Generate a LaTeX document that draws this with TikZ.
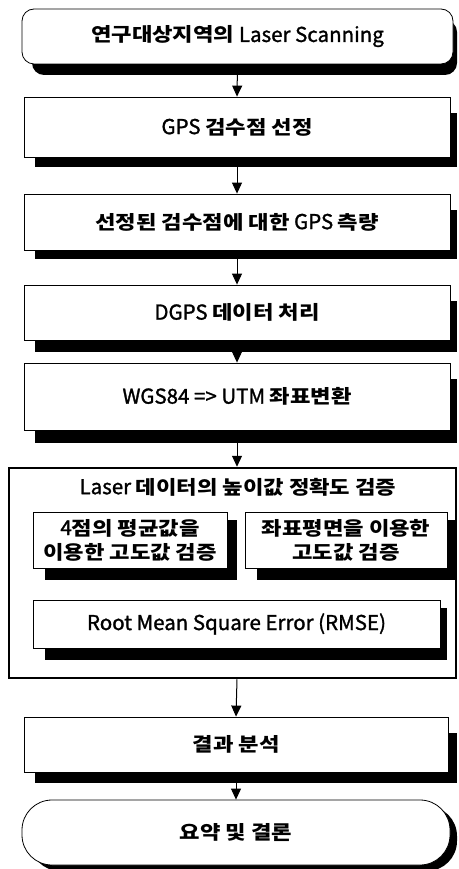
\documentclass[tikz,border=0pt]{standalone}
\usepackage{fontspec}
\setmainfont{Noto Sans CJK KR}[AutoFakeBold=1.3]
\newfontfamily\kofont{Noto Sans CJK KR}[FakeStretch=1.17]
\newcommand{\K}[1]{{\kofont\bfseries\fontsize{19}{24}\selectfont #1}}
\usetikzlibrary{calc,arrows.meta}
\begin{document}
\begin{tikzpicture}[x=1pt,y=-1pt,
  box/.style={draw, fill=white, line width=0.8pt, inner sep=0pt, align=center,
    font=\fontsize{20.5}{24}\selectfont\bfseries},
  shadowfill/.style={fill=black},
  arr/.style={-{Triangle[length=11pt,width=10pt]}, line width=1pt}]
\useasboundingbox (0,0) rectangle (458,869);
% drop shadows
\fill[shadowfill, rounded corners=12pt] (32,20) rectangle (457,75);
\fill[shadowfill] (35,113) rectangle (457,167);
\fill[shadowfill] (35,210) rectangle (457,259);
\fill[shadowfill] (35,301) rectangle (457,352);
\fill[shadowfill] (35,379) rectangle (457,443);
\fill[shadowfill] (45,520) rectangle (237,580);
\fill[shadowfill] (257,520) rectangle (455,580);
\fill[shadowfill] (45,608) rectangle (447,660);
\fill[shadowfill] (35,733) rectangle (457,783);
\fill[shadowfill, rounded corners=30pt] (30,806) rectangle (457,871);
% main boxes
\node[box, rounded corners=12pt, minimum width=431pt, minimum height=55pt] (b1) at (237.5,36.5) {\K{연구대상지역의} Laser Scanning};
\node[box, minimum width=426pt, minimum height=60pt] (b2) at (237,127) {GPS \K{검수점 선정}};
\node[box, minimum width=426pt, minimum height=56pt] (b3) at (237,222) {\K{선정된 검수점에 대한} GPS \K{측량}};
\node[box, minimum width=426pt, minimum height=55pt] (b4) at (237,312.5) {DGPS \K{데이터 처리}};
\node[box, minimum width=426pt, minimum height=67pt] (b5) at (237,396.5) {WGS84 => UTM \K{좌표변환}};
\node[box, fill=none, line width=2.5pt, minimum width=447pt, minimum height=210pt] (big) at (232.5,573) {};
\node[font=\fontsize{20.5}{24}\selectfont\bfseries, inner sep=0pt] (title) at (238,487) {Laser \K{데이터의 높이값 정확도 검증}};
\node[box, minimum width=194pt, minimum height=56pt] (bA) at (130,540) {4\K{점의 평균값을}\\\K{이용한 고도값 검증}};
\node[box, minimum width=202pt, minimum height=56pt] (bB) at (346,540) {\K{좌표평면을 이용한}\\\K{고도값 검증}};
\node[box, minimum width=407pt, minimum height=48pt] (bR) at (236.5,624) {Root Mean Square Error (RMSE)};
\node[box, minimum width=424pt, minimum height=55pt] (b8) at (236,744.5) {\K{결과 분석}};
\node[box, rounded corners=30pt, minimum width=428pt, minimum height=65pt] (b9) at (236,832.5) {\K{요약 및 결론}};
% arrows
\draw[arr] (b1.south) -- (b2.north);
\draw[arr] (b2.south) -- (b3.north);
\draw[arr] (b3.south) -- (b4.north);
\draw[arr] (b4.south) -- (b5.north);
\draw[arr] (b5.south) -- (b5.south |- big.north);
\draw[arr] (b5.south |- big.south) -- (b8.north);
\draw[arr] (b8.south) -- (b9.north);
\end{tikzpicture}
\end{document}
